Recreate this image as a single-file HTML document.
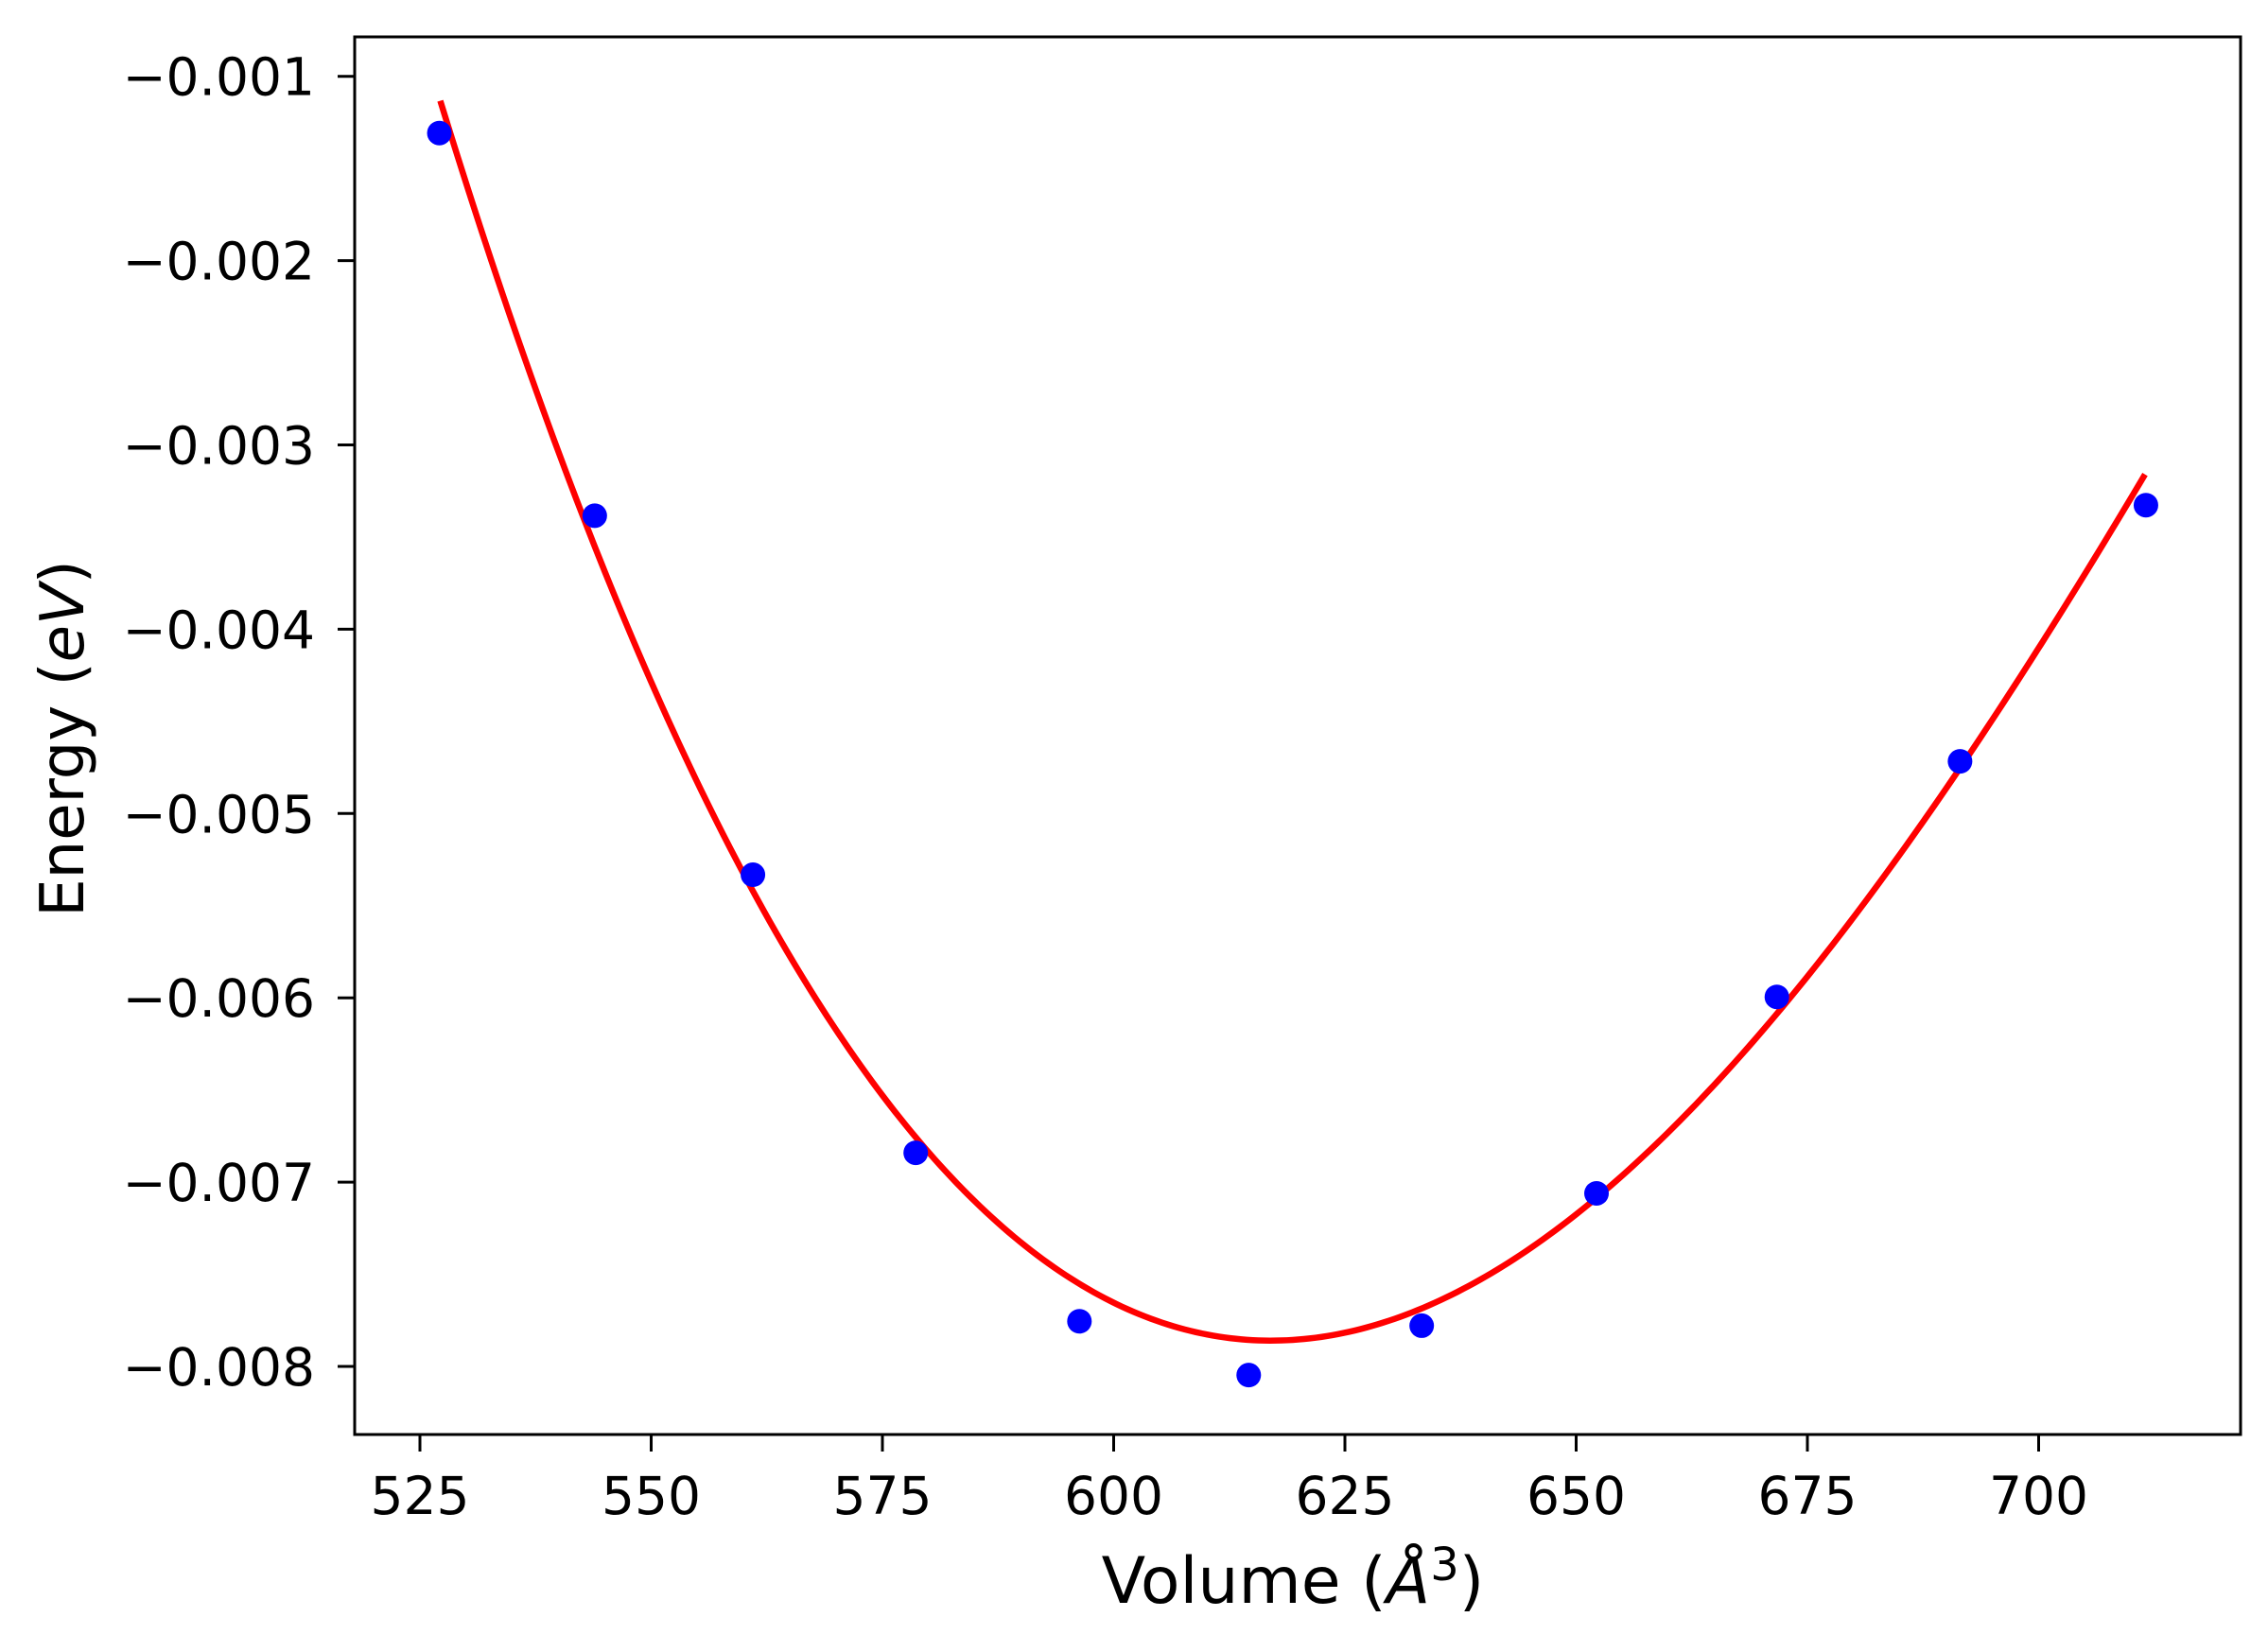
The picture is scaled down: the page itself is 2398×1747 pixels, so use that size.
<!DOCTYPE html>
<html><head><meta charset="utf-8"><style>
html,body{margin:0;padding:0;background:#fff;}
svg{display:block;font-family:"DejaVu Sans","Liberation Sans",sans-serif;}
</style></head><body>
<svg id="chart" width="2398" height="1747" viewBox="0 0 2398 1747" xmlns="http://www.w3.org/2000/svg">
<rect x="0" y="0" width="2398" height="1747" fill="#fff"/>
<g id="plot"></g>
<text x="1367" y="1695" font-size="68" text-anchor="middle">Volume (<tspan font-style="italic">Å</tspan><tspan dy="-24" font-size="48">3</tspan><tspan dy="24">)</tspan></text>
<text transform="translate(88,781) rotate(-90)" font-size="64" text-anchor="middle">Energy (<tspan font-style="italic">eV</tspan>)</text>
</svg>
<script>
const volumes = [527.1, 543.9, 561.0, 578.6, 596.3, 614.6, 633.3, 652.2, 671.7, 691.5, 711.6];
const energies = [-0.001308, -0.003384, -0.005332, -0.006841, -0.007755, -0.008047, -0.007779, -0.007061, -0.005995, -0.004717, -0.003327];
const fitParams = [617, -0.00786, 6.842e-7, -1.671e-9]; // V0, Emin, a, b
const fitRange = [527.2, 711.5];
const xTicks = [525, 550, 575, 600, 625, 650, 675, 700];
const yTicks = [-0.001, -0.002, -0.003, -0.004, -0.005, -0.006, -0.007, -0.008];

const NS = "http://www.w3.org/2000/svg";
const L = 375, R = 2369, T = 39, B = 1517;
function xs(v){ return 444 + (v - 525) * 9.78; }
function ys(e){ return 80.7 + (-0.001 - e) / 0.001 * 194.9; }
const g = document.getElementById('plot');
function mk(tag, attrs){ const el = document.createElementNS(NS, tag); for (const k in attrs) el.setAttribute(k, attrs[k]); return el; }

let d = "";
const N = 300;
for (let i = 0; i <= N; i++) {
  const v = fitRange[0] + (fitRange[1] - fitRange[0]) * i / N;
  const dv = v - fitParams[0];
  const e = fitParams[1] + fitParams[2] * dv * dv + fitParams[3] * dv * dv * dv;
  d += (i ? "L" : "M") + xs(v).toFixed(2) + "," + ys(e).toFixed(2);
}
const curve = mk('path', {d: d, fill: 'none', stroke: '#ff0000', 'stroke-width': 6.5});


g.appendChild(curve);

volumes.forEach((v, i) => {
  const c = mk('circle', {cx: xs(v), cy: ys(energies[i]), r: 13, fill: '#0000ff'});
  
  
  g.appendChild(c);
});

const frame = mk('rect', {x: L, y: T, width: R - L, height: B - T, fill: 'none', stroke: '#000', 'stroke-width': 3});


g.appendChild(frame);

xTicks.forEach(t => {
  const x = xs(t);
  const ln = mk('line', {x1: x, y1: B, x2: x, y2: B + 18, stroke: '#000', 'stroke-width': 3});
  
  
  g.appendChild(ln);
  const tx = mk('text', {x: x, y: 1601, 'font-size': 55, 'text-anchor': 'middle'});
  
  
  tx.textContent = String(t);
  g.appendChild(tx);
});
yTicks.forEach(t => {
  const y = ys(t);
  const ln = mk('line', {x1: L - 18, y1: y, x2: L, y2: y, stroke: '#000', 'stroke-width': 3});
  
  
  g.appendChild(ln);
  const tx = mk('text', {x: 333, y: y + 20, 'font-size': 55, 'text-anchor': 'end'});
  
  
  tx.textContent = '\u2212' + Math.abs(t).toFixed(3);
  g.appendChild(tx);
});
</script>
</body></html>
